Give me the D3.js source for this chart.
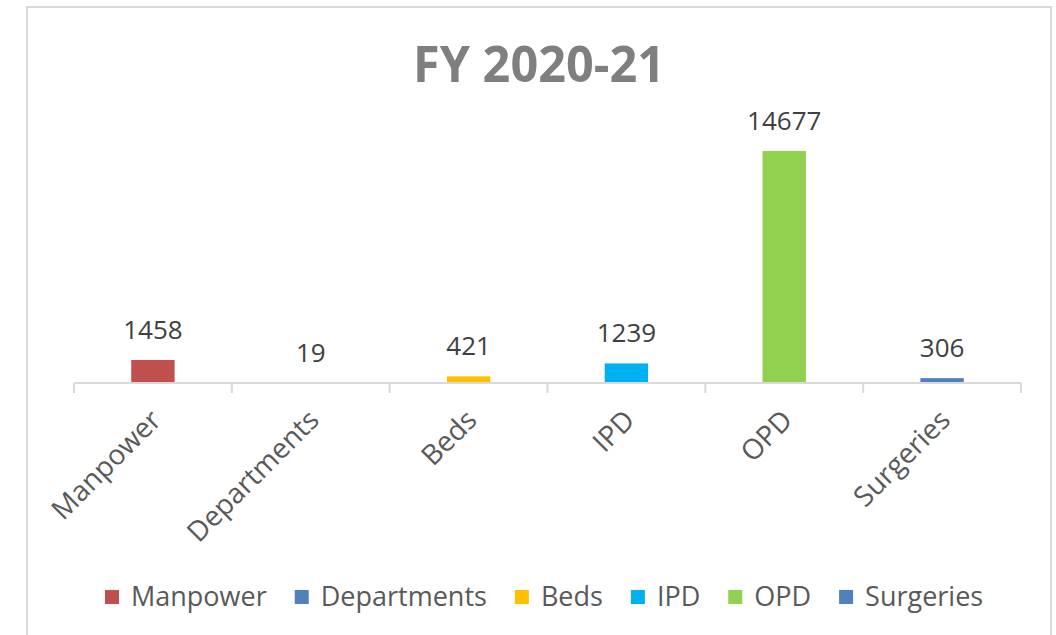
<!DOCTYPE html>
<html>
<head>
<meta charset="utf-8">
<script src="https://cdn.jsdelivr.net/npm/d3@7"></script>
<style>
  body { margin: 0; background: #fff; }
  svg { font-family: "Open Sans", sans-serif; }
</style>
</head>
<body>
<svg id="chart" width="1056" height="635"></svg>
<script>
var categories = ["Manpower", "Departments", "Beds", "IPD", "OPD", "Surgeries"];
var values = [1458, 19, 421, 1239, 14677, 306];
var colors = ["#C0504D", "#4F81BD", "#FFC000", "#00B0F0", "#92D050", "#4F81BD"];
var title = "FY 2020-21";

var svg = d3.select("svg#chart"),
    margin = {up: 130, right: 35, bottom: 252, left: 74},
    width = +svg.attr("width") - margin.left - margin.right,
    height = +svg.attr("height") - margin.up - margin.bottom;

// chart frame
svg.append("rect")
    .attr("x", 27)
    .attr("y", 7)
    .attr("width", 1024)
    .attr("height", 640)
    .attr("fill", "#fff")
    .attr("stroke", "#d9d9d9")
    .attr("stroke-width", 2);

// title
svg.append("text")
    .attr("x", 539)
    .attr("y", 82)
    .attr("text-anchor", "middle")
    .attr("fill", "#7f7f7f")
    .style("font-size", "50px")
    .style("font-weight", "bold")
    .attr("textLength", 252)
    .attr("lengthAdjust", "spacingAndGlyphs")
    .text(title);

var x = d3.scaleBand().domain(categories).range([0, width]);
var y = d3.scaleLinear().domain([0, 16000]).range([height, 0]);
var barW = x.bandwidth() * 0.275;

var g = svg.append("g")
    .attr("transform", "translate(" + margin.left + "," + margin.up + ")");

g.selectAll(".bar")
    .data(values)
  .enter().append("rect")
    .attr("class", "bar")
    .attr("x", function(d, i) { return x(categories[i]) + (x.bandwidth() - barW) / 2; })
    .attr("y", function(d) { return y(d); })
    .attr("width", barW)
    .attr("height", function(d) { return height - y(d); })
    .attr("fill", function(d, i) { return colors[i]; });

g.selectAll(".val")
    .data(values)
  .enter().append("text")
    .attr("class", "val")
    .attr("x", function(d, i) { return x(categories[i]) + x.bandwidth() / 2; })
    .attr("y", function(d) { return y(d) - 21; })
    .attr("text-anchor", "middle")
    .attr("fill", "#404040")
    .style("font-size", "26px")
    .text(function(d) { return d; });

// x axis, ticks sit between categories
var axis = g.append("g").attr("transform", "translate(0," + height + ")");
axis.append("line")
    .attr("x1", 0).attr("x2", width)
    .attr("stroke", "#d9d9d9").attr("stroke-width", 2);
axis.selectAll(".tick")
    .data(categories.concat([null]))
  .enter().append("line")
    .attr("x1", function(d, i) { return i * x.step(); })
    .attr("x2", function(d, i) { return i * x.step(); })
    .attr("y1", 0).attr("y2", 10)
    .attr("stroke", "#d9d9d9").attr("stroke-width", 2);

axis.selectAll(".lbl")
    .data(categories)
  .enter().append("text")
    .attr("class", "lbl")
    .attr("transform", function(d) {
      return "translate(" + (x(d) + x.bandwidth() / 2 - 5) + ",24) rotate(-45)";
    })
    .attr("text-anchor", "end")
    .attr("dy", "0.75em")
    .attr("fill", "#595959")
    .style("font-size", "28px")
    .text(function(d) { return d; });

// legend
var legend = svg.append("g").attr("transform", "translate(105,597)");
var lx = 0;
categories.forEach(function(c, i) {
  var item = legend.append("g").attr("transform", "translate(" + lx + ",0)");
  item.append("rect")
      .attr("x", 0).attr("y", -7)
      .attr("width", 14).attr("height", 14)
      .attr("fill", colors[i]);
  var t = item.append("text")
      .attr("x", 26)
      .attr("dy", "0.35em")
      .attr("fill", "#595959")
      .style("font-size", "27px")
      .text(c);
  lx += 26 + t.node().getComputedTextLength() + 28;
});
</script>
</body>
</html>
